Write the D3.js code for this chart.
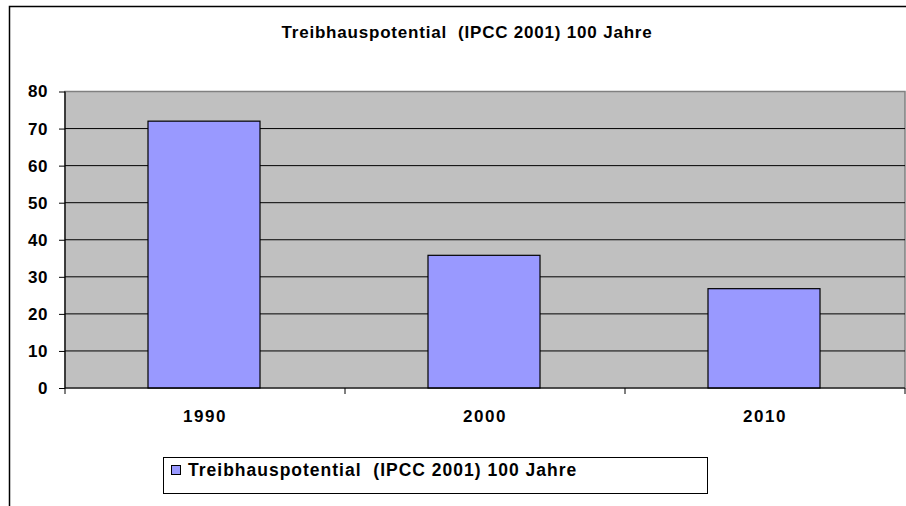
<!DOCTYPE html>
<html><head><meta charset="utf-8">
<script src="https://cdn.jsdelivr.net/npm/d3@7"></script>
<style>
html,body{margin:0;padding:0;background:#fff;}
svg{display:block;font-family:"Liberation Sans",Arial,sans-serif;}
text{white-space:pre;}
</style></head><body>
<svg id="c" width="906" height="506"></svg>
<script>
const categories = ["1990", "2000", "2010"];
const values = [72, 35.8, 26.8];
const yTicks = [0, 10, 20, 30, 40, 50, 60, 70, 80];
const seriesName = "Treibhauspotential  (IPCC 2001) 100 Jahre";
const chartTitle = "Treibhauspotential  (IPCC 2001) 100 Jahre";

const svg = d3.select("#c");
svg.append("rect").attr("x", 9.5).attr("y", 6.5).attr("width", 1000).attr("height", 600)
  .attr("fill", "#fff").attr("stroke", "#000").attr("stroke-width", 1.5);

const m = {left: 65, right: 905, top: 91.5, bottom: 388};
const x = d3.scaleBand().domain(categories).range([m.left, m.right]).paddingInner(0).paddingOuter(0);
const y = d3.scaleLinear().domain([0, 80]).range([m.bottom, m.top]);

svg.append("rect").attr("x", m.left).attr("y", m.top).attr("width", m.right - m.left).attr("height", m.bottom - m.top)
  .attr("fill", "#C0C0C0").attr("stroke", "#808080").attr("stroke-width", 1.5);

svg.append("g").selectAll("line").data(yTicks.filter(d => d > 0 && d < 80)).join("line")
  .attr("x1", m.left).attr("x2", m.right).attr("y1", d => y(d)).attr("y2", d => y(d))
  .attr("stroke", "#000").attr("stroke-width", 1);

const bw = x.bandwidth() * 0.4;
svg.append("g").selectAll("rect").data(values).join("rect")
  .attr("x", (d, i) => x(categories[i]) + x.bandwidth() / 2 - bw / 2 - 1)
  .attr("width", bw)
  .attr("y", d => y(d))
  .attr("height", d => y(0) - y(d))
  .attr("fill", "#9999FF").attr("stroke", "#000").attr("stroke-width", 1.2);

const yAxis = d3.axisLeft(y).tickValues(yTicks).tickSize(6).tickPadding(11);
const gy = svg.append("g").attr("transform", `translate(${m.left},0)`).call(yAxis);
gy.select(".domain").attr("stroke", "#000").attr("stroke-width", 1.2).attr("d", `M-0,${m.top}V${m.bottom}`);
gy.selectAll(".tick line").attr("stroke", "#000");
gy.selectAll(".tick text").attr("font-size", 17).attr("font-weight", "bold").attr("fill", "#000")
  .attr("letter-spacing", "0.5px").attr("font-family", "Liberation Sans, Arial, sans-serif");

const xAxis = d3.axisBottom(x).tickSize(0).tickPadding(22);
const gx = svg.append("g").attr("transform", `translate(0,${m.bottom})`).call(xAxis);
gx.select(".domain").attr("stroke", "#000").attr("stroke-width", 1.2).attr("d", `M${m.left},0H${m.right}`);
gx.selectAll(".tick text").attr("font-size", 17).attr("font-weight", "bold").attr("fill", "#000")
  .attr("letter-spacing", "1.5px").attr("font-family", "Liberation Sans, Arial, sans-serif");
const bounds = categories.map(c => x(c)).concat([x.range()[1]]);
gx.append("g").selectAll("line").data(bounds).join("line")
  .attr("x1", d => d).attr("x2", d => d).attr("y1", 0).attr("y2", 6).attr("stroke", "#000");

svg.append("text").attr("x", 467).attr("y", 37.5).attr("text-anchor", "middle")
  .attr("font-size", 17).attr("font-weight", "bold").attr("letter-spacing", "0.8px").text(chartTitle);

const lg = svg.append("g");
lg.append("rect").attr("x", 163.5).attr("y", 457.5).attr("width", 544).attr("height", 36)
  .attr("fill", "#fff").attr("stroke", "#000").attr("stroke-width", 1);
lg.append("rect").attr("x", 171.5).attr("y", 465.5).attr("width", 9).attr("height", 9)
  .attr("fill", "#9999FF").attr("stroke", "#000").attr("stroke-width", 1);
lg.append("text").attr("x", 188).attr("y", 476).attr("font-size", 17.5).attr("font-weight", "bold")
  .attr("letter-spacing", "1px").text(seriesName);
</script></body></html>
